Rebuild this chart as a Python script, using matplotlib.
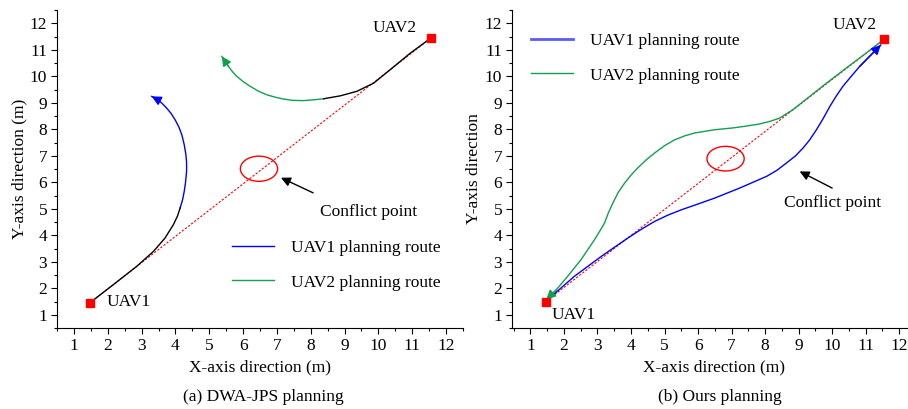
import matplotlib
matplotlib.use('Agg')
import matplotlib.pyplot as plt
from matplotlib.patches import Ellipse
from matplotlib.ticker import MultipleLocator

plt.rcParams['font.family'] = ['Liberation Serif', 'DejaVu Serif']
plt.rcParams['font.size'] = 12.5

# --- data ---
uav1_a = (1.47, 1.45)
uav2_a = (11.55, 11.44)
uav1_b = (1.45, 1.49)
uav2_b = (11.55, 11.40)

# (a) DWA-JPS planning
a_blue_black_x = [1.47, 2.16, 2.85, 3.35, 3.69, 3.94, 4.06, 4.14]
a_blue_black_y = [1.45, 2.13, 2.82, 3.39, 3.89, 4.40, 4.72, 5.03]
a_blue_x = [4.14, 4.21, 4.26, 4.30, 4.33, 4.33, 4.31, 4.26, 4.19, 4.10, 3.99, 3.87,
            3.74, 3.61, 3.49, 3.30]
a_blue_y = [5.03, 5.33, 5.65, 6.00, 6.41, 6.75, 7.04, 7.42, 7.79, 8.09, 8.36, 8.60,
            8.80, 8.97, 9.11, 9.24]
a_green_black_x = [11.55, 10.94, 10.35, 9.86, 9.36, 8.87, 8.38]
a_green_black_y = [11.44, 10.87, 10.25, 9.74, 9.43, 9.26, 9.15]
a_green_x = [8.38, 8.08, 7.78, 7.48, 7.19, 6.95, 6.70, 6.45, 6.21, 6.00, 5.81, 5.68, 5.57, 5.37]
a_green_y = [9.15, 9.11, 9.08, 9.09, 9.14, 9.21, 9.30, 9.44, 9.62, 9.80, 10.0, 10.18, 10.37, 10.75]
a_conflict = (6.47, 6.51)
a_arrow_tail = (8.07, 5.60)
a_arrow_head = (7.12, 6.17)
a_text = (9.7, 4.89)

# (b) Ours planning
b_blue_x = [1.47, 2.31, 3.11, 3.90, 4.30, 4.70, 5.10, 5.50, 6.00, 6.49, 7.24, 8.04,
            8.35, 8.63, 8.90, 9.13, 9.33, 9.53, 9.73, 9.93, 10.12, 10.32, 10.57,
            10.82, 11.45]
b_blue_y = [1.52, 2.45, 3.20, 3.89, 4.22, 4.52, 4.76, 4.96, 5.18, 5.40, 5.78, 6.22,
            6.45, 6.72, 6.99, 7.29, 7.60, 7.98, 8.40, 8.86, 9.25, 9.62, 10.00,
            10.37, 11.18]
b_green_x = [11.55, 11.02, 10.42, 9.83, 9.33, 8.83, 8.43, 8.15, 7.84, 7.44, 7.04,
             6.49, 5.90, 5.60, 5.30, 5.00, 4.70, 4.45, 4.20, 4.00, 3.81, 3.62, 3.46,
             3.32, 3.21, 3.06, 2.91, 2.51, 2.11, 1.77, 1.47]
b_green_y = [11.40, 10.88, 10.31, 9.74, 9.24, 8.74, 8.42, 8.30, 8.20, 8.12, 8.05,
             7.98, 7.86, 7.75, 7.60, 7.38, 7.10, 6.84, 6.54, 6.27, 5.97, 5.62, 5.22,
             4.83, 4.46, 4.14, 3.83, 3.08, 2.45, 1.94, 1.57]
b_conflict = (6.82, 6.89)
b_arrow_tail = (10.0, 5.78)
b_arrow_head = (9.03, 6.41)
b_text = (10.0, 5.2)

ticks = list(range(1, 13))
blue = '#0000ff'
green = '#10a050'
red = '#ff0000'

fig = plt.figure(figsize=(9.08, 4.09), dpi=100)
ax1 = fig.add_axes([57 / 908, 81 / 409, 406 / 908, 318 / 409])
ax2 = fig.add_axes([512 / 908, 81 / 409, 404 / 908, 318 / 409])


def style(ax, xmin):
    ax.set_xlim(xmin, 12.5)
    ax.set_ylim(0.5, 12.5)
    ax.spines['top'].set_visible(False)
    ax.spines['right'].set_visible(False)
    ax.set_xticks(ticks)
    ax.set_yticks(ticks)
    ax.xaxis.set_minor_locator(MultipleLocator(0.5))
    ax.yaxis.set_minor_locator(MultipleLocator(0.5))
    ax.tick_params(which='major', direction='out', length=4, width=0.8, labelsize=12.5, pad=3)
    ax.tick_params(which='minor', direction='out', length=2.5, width=0.8)


def arrow(ax, xs, ys, color):
    ax.annotate('', xy=(xs[-1], ys[-1]), xytext=(xs[-2], ys[-2]),
                arrowprops=dict(arrowstyle='-|>', color=color, lw=1,
                                mutation_scale=14, shrinkA=0, shrinkB=0))


# ----- (a) -----
style(ax1, 0.5)
ax1.plot([uav1_a[0], uav2_a[0]], [uav1_a[1], uav2_a[1]], color=red, lw=0.8,
         linestyle=(0, (2, 1.5)))
ax1.plot(a_blue_x, a_blue_y, color=blue, lw=1, label='UAV1 planning route')
ax1.plot(a_green_x, a_green_y, color=green, lw=1, label='UAV2 planning route')
ax1.plot(a_blue_black_x, a_blue_black_y, color='black', lw=1)
ax1.plot(a_green_black_x, a_green_black_y, color='black', lw=1)
arrow(ax1, a_blue_x, a_blue_y, blue)
arrow(ax1, a_green_x, a_green_y, green)
ax1.add_patch(Ellipse(a_conflict, 1.1, 0.95, fill=False, edgecolor=red, lw=1))
ax1.annotate('', xy=a_arrow_head, xytext=a_arrow_tail,
             arrowprops=dict(arrowstyle='-|>', color='black', lw=1,
                             mutation_scale=14, shrinkA=0, shrinkB=0))
ax1.text(a_text[0], a_text[1], 'Conflict point', ha='center', va='center')
ax1.plot(*uav1_a, marker='s', color=red, markersize=6, zorder=5)
ax1.plot(*uav2_a, marker='s', color=red, markersize=6, zorder=5)
ax1.text(1.98, 1.49, 'UAV1', ha='left', va='center')
ax1.text(9.82, 11.83, 'UAV2', ha='left', va='center')
ax1.legend(loc='upper left', bbox_to_anchor=(232 / 908, (409 - 240) / 409),
           bbox_transform=fig.transFigure, frameon=False, borderpad=0,
           borderaxespad=0, handlelength=2.4, handletextpad=1.0, labelspacing=1.05)
ax1.set_xlabel('X-axis direction (m)', labelpad=4)
ax1.set_ylabel('Y-axis direction (m)', labelpad=2)
fig.text(263 / 908, 1 - 397 / 409, '(a) DWA-JPS planning', ha='center', va='center')

# ----- (b) -----
style(ax2, 0.45)
ax2.plot([uav1_b[0], uav2_b[0]], [uav1_b[1], uav2_b[1]], color=red, lw=0.8,
         linestyle=(0, (2, 1.5)))
lb, = ax2.plot(b_blue_x, b_blue_y, color=blue, lw=1)
lg, = ax2.plot(b_green_x, b_green_y, color=green, lw=1)
arrow(ax2, b_blue_x, b_blue_y, blue)
arrow(ax2, b_green_x, b_green_y, green)
ax2.add_patch(Ellipse(b_conflict, 1.11, 0.93, fill=False, edgecolor=red, lw=1))
ax2.annotate('', xy=b_arrow_head, xytext=b_arrow_tail,
             arrowprops=dict(arrowstyle='-|>', color='black', lw=1,
                             mutation_scale=14, shrinkA=0, shrinkB=0))
ax2.text(b_text[0], b_text[1], 'Conflict point', ha='center', va='center')
ax2.plot(*uav1_b, marker='s', color=red, markersize=6, zorder=5)
ax2.plot(*uav2_b, marker='s', color=red, markersize=6, zorder=5)
ax2.text(1.62, 1.0, 'UAV1', ha='left', va='center')
ax2.text(10.0, 11.94, 'UAV2', ha='left', va='center')
h1, = ax2.plot([], [], color='#5a5aff', lw=2)
ax2.legend([h1, lg], ['UAV1 planning route', 'UAV2 planning route'],
           loc='upper left', bbox_to_anchor=(531 / 908, (409 - 33) / 409),
           bbox_transform=fig.transFigure, frameon=False, borderpad=0,
           borderaxespad=0, handlelength=2.4, handletextpad=1.0, labelspacing=1.05)
ax2.set_xlabel('X-axis direction (m)', labelpad=4)
ax2.set_ylabel('Y-axis direction', labelpad=2)
fig.text(720 / 908, 1 - 397 / 409, '(b) Ours planning', ha='center', va='center')

fig.savefig('out.png', dpi=100)
